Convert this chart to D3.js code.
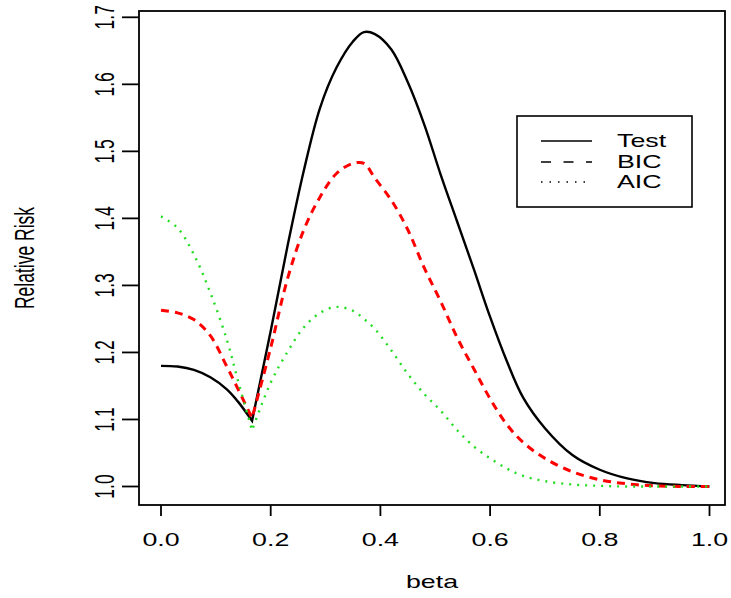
<!DOCTYPE html>
<html lang="en">
<head>
<meta charset="UTF-8">
<title>Relative Risk vs beta</title>
<script src="https://d3js.org/d3.v7.min.js"></script>
<style>
    body {
        margin: 0;
        background-color: #fff;
    }
    .lab {
        font-family: "Liberation Sans", Arial, sans-serif;
        font-size: 17.5px;
        fill: #000;
    }
</style>
</head>
<body>
<script>
    const width = 731;
    const height = 598;

    // values
    const beta = [0, 0.03, 0.06, 0.09, 0.12, 0.14, 0.166, 0.2, 0.23, 0.26, 0.29, 0.32, 0.35, 0.37,
        0.39, 0.42, 0.45, 0.48, 0.51, 0.54, 0.57, 0.6, 0.63, 0.66, 0.7, 0.75, 0.8, 0.85, 0.9, 0.95, 1.0];
    const testRR = [1.180, 1.179, 1.174, 1.163, 1.145, 1.127, 1.098, 1.232, 1.356, 1.470, 1.565, 1.625, 1.664, 1.678,
        1.675, 1.652, 1.603, 1.540, 1.465, 1.395, 1.325, 1.253, 1.188, 1.133, 1.087, 1.047, 1.025, 1.012, 1.005, 1.002, 1.000];
    const bicRR = [1.263, 1.259, 1.249, 1.225, 1.179, 1.146, 1.102, 1.207, 1.308, 1.382, 1.432, 1.467, 1.482, 1.482,
        1.460, 1.427, 1.383, 1.326, 1.276, 1.222, 1.176, 1.131, 1.093, 1.066, 1.042, 1.022, 1.010, 1.004, 1.001, 1.000, 1.000];
    const aicRR = [1.403, 1.386, 1.346, 1.289, 1.219, 1.159, 1.084, 1.155, 1.200, 1.237, 1.259, 1.268, 1.262, 1.250,
        1.235, 1.203, 1.168, 1.138, 1.113, 1.084, 1.060, 1.042, 1.027, 1.016, 1.008, 1.003, 1.001, 1.000, 1.000, 1.000, 1.000];

    const kinkIndex = 6; // beta = 0.166, where the curves turn sharply

    const xTicks = [0, 0.2, 0.4, 0.6, 0.8, 1.0];
    const yTicks = [1.0, 1.1, 1.2, 1.3, 1.4, 1.5, 1.6, 1.7];
    const seriesNames = ["Test", "BIC", "AIC"];

    const styles = [
        { color: "#000", w: 2.4, dash: null, legDash: null },
        { color: "#ff0000", w: 3, dash: "8,6", legDash: "10,12.5" },
        { color: "#22dd22", w: 2.4, dash: "2,6", legDash: "1.5,7" }
    ];

    // plot box
    const box = { left: 139, top: 11, right: 725, bottom: 505 };
    const sx = 1.53; // text is drawn wide in the original

    const x = d3.scaleLinear().domain([0, 1]).range([161, 709.5]);
    const y = d3.scaleLinear().domain([1, 1.7]).range([486.5, 17.3]);

    const svg = d3.select("body").append("svg")
        .attr("width", width)
        .attr("height", height);

    function wideText(tx, ty, str, anchor, rot) {
        svg.append("text")
            .attr("class", "lab")
            .attr("text-anchor", anchor)
            .attr("transform", `translate(${tx},${ty}) scale(${sx},1)` + (rot ? " rotate(-90)" : ""))
            .text(str);
    }

    // curves, drawn in two pieces so the turn at the kink stays sharp
    const series = [testRR, bicRR, aicRR];
    const line = d3.line()
        .x(d => x(d[0]))
        .y(d => y(d[1]))
        .curve(d3.curveCatmullRom.alpha(0.5));

    series.forEach((vals, i) => {
        const st = styles[i];
        const pts = beta.map((b, j) => [b, vals[j]]);
        const path = line(pts.slice(0, kinkIndex + 1)) + line(pts.slice(kinkIndex)).replace(/^M[^C L]*/, "L" + x(pts[kinkIndex][0]) + "," + y(pts[kinkIndex][1]));
        svg.append("path")
            .attr("d", path)
            .attr("fill", "none")
            .attr("stroke", st.color)
            .attr("stroke-width", st.w)
            .attr("stroke-linejoin", "miter")
            .attr("stroke-dasharray", st.dash);
    });

    // box
    svg.append("rect")
        .attr("x", box.left)
        .attr("y", box.top)
        .attr("width", box.right - box.left)
        .attr("height", box.bottom - box.top)
        .attr("fill", "none")
        .attr("stroke", "#000")
        .attr("stroke-width", 1.8);

    // x axis
    xTicks.forEach(t => {
        svg.append("line")
            .attr("x1", x(t)).attr("x2", x(t))
            .attr("y1", box.bottom).attr("y2", box.bottom + 11)
            .attr("stroke", "#000").attr("stroke-width", 1.8);
        wideText(x(t), 546, d3.format(".1f")(t), "middle", false);
    });

    // y axis
    yTicks.forEach(t => {
        svg.append("line")
            .attr("x1", box.left - 17).attr("x2", box.left)
            .attr("y1", y(t)).attr("y2", y(t))
            .attr("stroke", "#000").attr("stroke-width", 1.8);
        wideText(114, y(t), d3.format(".1f")(t), "middle", true);
    });

    wideText((box.left + box.right) / 2, 588, "beta", "middle", false);
    wideText(34, (box.top + box.bottom) / 2, "Relative Risk", "middle", true);

    // legend
    const leg = { x: 517, y: 116, w: 175, h: 91 };
    svg.append("rect")
        .attr("x", leg.x).attr("y", leg.y)
        .attr("width", leg.w).attr("height", leg.h)
        .attr("fill", "#fff")
        .attr("stroke", "#000")
        .attr("stroke-width", 1.6);

    const legY = [141, 162, 182];
    seriesNames.forEach((name, i) => {
        svg.append("line")
            .attr("x1", 541).attr("x2", 592)
            .attr("y1", legY[i]).attr("y2", legY[i])
            .attr("stroke", "#000")
            .attr("stroke-width", 1.4)
            .attr("stroke-dasharray", styles[i].legDash);
        wideText(617, legY[i] + 6, name, "start", false);
    });
</script>
</body>
</html>
